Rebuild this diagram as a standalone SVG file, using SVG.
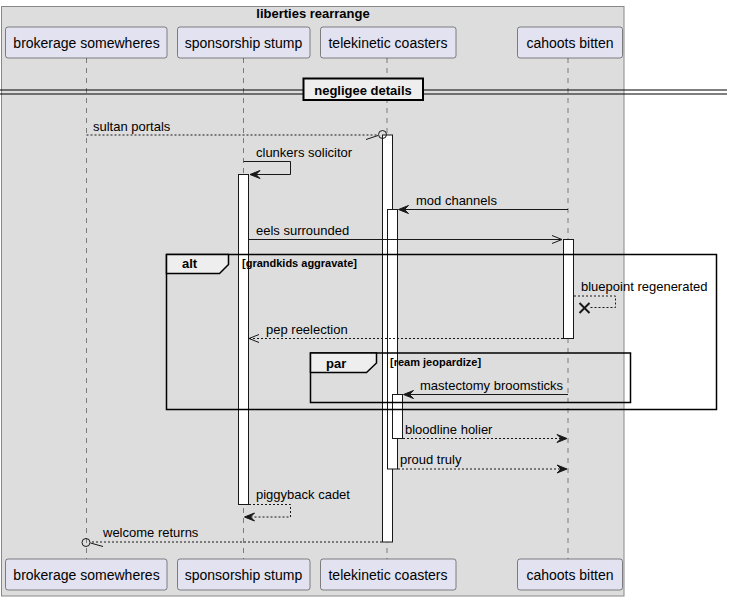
<svg xmlns="http://www.w3.org/2000/svg" width="732" height="601" viewBox="0 0 732 601">
  <style>
    text { font-family: "Liberation Sans", Arial, sans-serif; fill: #000; }
    .pname { font-size: 14px; text-anchor: middle; }
    .msg { font-size: 13px; }
    .bold { font-weight: bold; }
    .cond { font-size: 11px; font-weight: bold; }
    .pbox { fill: #E2E2F0; stroke: #181818; stroke-width: 0.5; }
    .life { stroke: #181818; stroke-width: 0.5; stroke-dasharray: 5,5; fill: none; }
    .act { fill: #FFFFFF; stroke: #181818; stroke-width: 1; }
    .line { stroke: #181818; stroke-width: 1; fill: none; }
    .dash { stroke: #181818; stroke-width: 1; stroke-dasharray: 2,2; fill: none; }
    .head { fill: #181818; stroke: #181818; stroke-width: 1; }
    .frame { fill: none; stroke: #000; stroke-width: 1.5; }
    .tab { fill: #EEEEEE; stroke: #000; stroke-width: 1.5; }
  </style>

  <!-- enclosing box -->
  <g id="box-liberties">
    <rect x="1.5" y="6.5" width="622.5" height="589.5" fill="#DDDDDD" stroke="#888888" stroke-width="1"/>
    <text x="313" y="18" class="bold" font-size="13" text-anchor="middle">liberties rearrange</text>
  </g>

  <!-- lifelines -->
  <g id="lifelines">
    <line class="life" x1="86.5" y1="58" x2="86.5" y2="559"/>
    <line class="life" x1="243.5" y1="58" x2="243.5" y2="559"/>
    <line class="life" x1="387" y1="58" x2="387" y2="559"/>
    <line class="life" x1="568" y1="58" x2="568" y2="559"/>
  </g>

  <!-- participants -->
  <g id="p-brokerage">
    <rect class="pbox" x="5.5" y="27" width="161.5" height="31" rx="2.5"/>
    <text class="pname" x="86.5" y="47.5">brokerage somewheres</text>
    <rect class="pbox" x="5.5" y="559" width="161.5" height="31" rx="2.5"/>
    <text class="pname" x="86.5" y="579.5">brokerage somewheres</text>
  </g>
  <g id="p-sponsorship">
    <rect class="pbox" x="177.5" y="27" width="132.5" height="31" rx="2.5"/>
    <text class="pname" x="243.5" y="47.5">sponsorship stump</text>
    <rect class="pbox" x="177.5" y="559" width="132.5" height="31" rx="2.5"/>
    <text class="pname" x="243.5" y="579.5">sponsorship stump</text>
  </g>
  <g id="p-telekinetic">
    <rect class="pbox" x="320.5" y="27" width="135.5" height="31" rx="2.5"/>
    <text class="pname" x="388" y="47.5">telekinetic coasters</text>
    <rect class="pbox" x="320.5" y="559" width="135.5" height="31" rx="2.5"/>
    <text class="pname" x="388" y="579.5">telekinetic coasters</text>
  </g>
  <g id="p-cahoots">
    <rect class="pbox" x="517.5" y="27" width="105" height="31" rx="2.5"/>
    <text class="pname" x="570" y="47.5">cahoots bitten</text>
    <rect class="pbox" x="517.5" y="559" width="105" height="31" rx="2.5"/>
    <text class="pname" x="570" y="579.5">cahoots bitten</text>
  </g>

  <!-- separator -->
  <g id="separator">
    <line x1="0" y1="90" x2="727" y2="90" stroke="#000" stroke-width="1"/>
    <line x1="0" y1="94" x2="727" y2="94" stroke="#000" stroke-width="1"/>
    <rect x="303.5" y="78.5" width="119.5" height="21.5" fill="#EEEEEE" stroke="#000" stroke-width="2"/>
    <text x="363" y="94.5" class="bold" font-size="13" text-anchor="middle">negligee details</text>
  </g>

  <!-- activations -->
  <g id="activations">
    <rect class="act" x="382.5" y="135" width="10" height="407"/>
    <rect class="act" x="238.5" y="174.5" width="10" height="330"/>
    <rect class="act" x="387.5" y="209.5" width="10" height="259.5"/>
    <rect class="act" x="563.5" y="239.5" width="10" height="99"/>
    <rect class="act" x="392.5" y="394.5" width="10" height="44"/>
  </g>

  <!-- frames -->
  <g id="frame-alt">
    <rect class="frame" x="166.5" y="254.5" width="550" height="155"/>
    <path class="tab" d="M166.5,254.5 H228.5 V264.5 L219.5,273.5 H166.5 Z"/>
    <text x="182" y="268" class="bold" font-size="13">alt</text>
    <text x="242" y="266.5" class="cond">[grandkids aggravate]</text>
  </g>
  <g id="frame-par">
    <rect class="frame" x="310.5" y="353" width="320" height="49.5"/>
    <path class="tab" d="M310.5,353 H376.5 V363 L366.5,372.5 H310.5 Z"/>
    <text x="326" y="368" class="bold" font-size="13">par</text>
    <text x="390" y="366" class="cond">[ream jeopardize]</text>
  </g>

  <!-- messages -->
  <g id="connectors">
    <!-- sultan portals -->
    <line class="dash" x1="86.5" y1="135" x2="378" y2="135"/>
    <line class="line" x1="366" y1="139.5" x2="378" y2="135.5"/>
    <circle cx="382.5" cy="134.5" r="4" fill="none" stroke="#181818" stroke-width="1"/>
    <text class="msg" x="93" y="130.5">sultan portals</text>

    <!-- clunkers solicitor -->
    <polyline class="line" points="243.5,161.5 290.5,161.5 290.5,174.5 250,174.5"/>
    <polygon class="head" points="250,174.5 260,170.5 256,174.5 260,178.5"/>
    <text class="msg" x="256" y="157">clunkers solicitor</text>

    <!-- mod channels -->
    <line class="line" x1="568" y1="209.5" x2="399" y2="209.5"/>
    <polygon class="head" points="398.5,209.5 408.5,205.5 404.5,209.5 408.5,213.5"/>
    <text class="msg" x="416" y="205">mod channels</text>

    <!-- eels surrounded -->
    <line class="line" x1="249" y1="239.5" x2="562" y2="239.5"/>
    <polyline class="line" points="552,235.5 562,239.5 552,243.5"/>
    <text class="msg" x="256" y="235">eels surrounded</text>

    <!-- bluepoint regenerated -->
    <polyline class="dash" points="574,296 615.5,296 615.5,307.5 590,307.5"/>
    <line x1="579.5" y1="303" x2="589.5" y2="313" stroke="#181818" stroke-width="2"/>
    <line x1="579.5" y1="313" x2="589.5" y2="303" stroke="#181818" stroke-width="2"/>
    <text class="msg" x="581" y="291">bluepoint regenerated</text>

    <!-- pep reelection -->
    <line class="dash" x1="563" y1="338.5" x2="249" y2="338.5"/>
    <polyline class="line" points="259,334.5 249,338.5 259,342.5"/>
    <text class="msg" x="266" y="334">pep reelection</text>

    <!-- mastectomy broomsticks -->
    <line class="line" x1="568" y1="394.5" x2="404" y2="394.5"/>
    <polygon class="head" points="403.5,394.5 413.5,390.5 409.5,394.5 413.5,398.5"/>
    <text class="msg" x="420" y="390">mastectomy broomsticks</text>

    <!-- bloodline holier -->
    <line class="dash" x1="403" y1="438.5" x2="566" y2="438.5"/>
    <polygon class="head" points="567,438.5 557,434.5 561,438.5 557,442.5"/>
    <text class="msg" x="405" y="434">bloodline holier</text>

    <!-- proud truly -->
    <line class="dash" x1="398" y1="469" x2="566" y2="469"/>
    <polygon class="head" points="567,469 557,465 561,469 557,473"/>
    <text class="msg" x="400" y="464">proud truly</text>

    <!-- piggyback cadet -->
    <polyline class="dash" points="249,504.5 290.5,504.5 290.5,517 245,517"/>
    <polygon class="head" points="244.5,517 254.5,513 250.5,517 254.5,521"/>
    <text class="msg" x="256" y="499">piggyback cadet</text>

    <!-- welcome returns -->
    <line class="dash" x1="382" y1="542" x2="90.5" y2="542"/>
    <line class="line" x1="90.5" y1="543" x2="103" y2="546.5"/>
    <circle cx="86" cy="542.5" r="4" fill="none" stroke="#181818" stroke-width="1"/>
    <text class="msg" x="103" y="537">welcome returns</text>
  </g>
</svg>
